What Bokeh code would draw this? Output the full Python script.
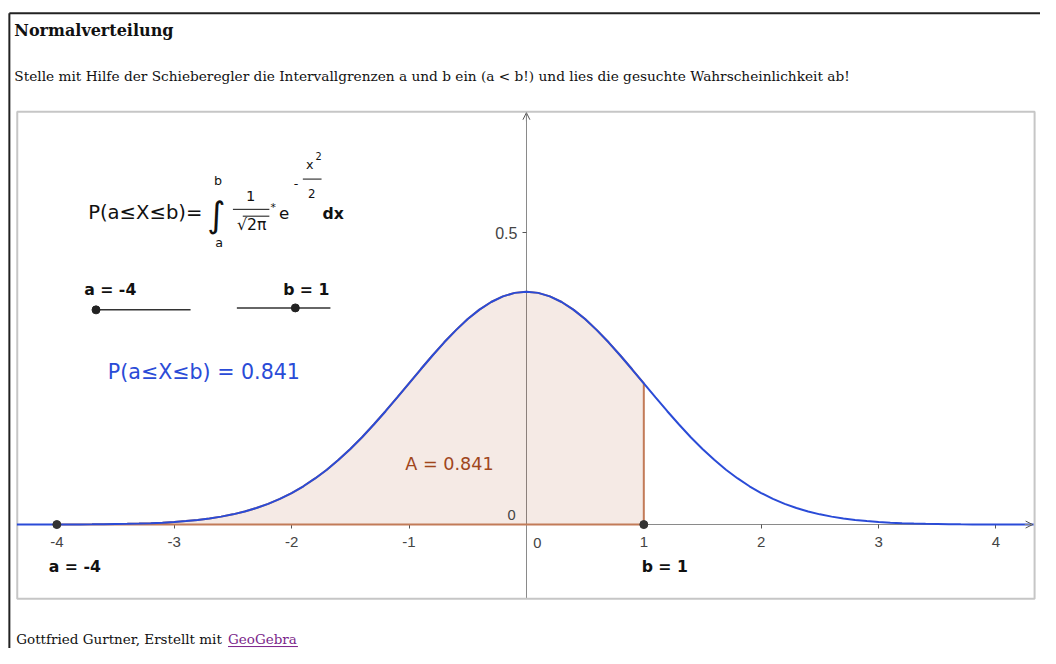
from bokeh.plotting import figure
from bokeh.models import Range1d, LinearAxis, FixedTicker, Arrow, OpenHead
from bokeh.core.properties import value
from bokeh.embed import file_html
from bokeh.resources import INLINE

# ---------------- data ----------------
mu = 0.0
sigma = 1.0
a = -4
b = 1
prob = 0.841
slider_min, slider_max = -4, 4

x_ticks = [-4, -3, -2, -1, 1, 2, 3, 4]
x_tick_labels = {t: str(t) for t in x_ticks}
y_ticks = [0.5]
y_tick_labels = {0.5: "0.5"}

# density values, x from -4.3 to 4.3 in steps of 0.1
curve_x = [round(-4.3 + 0.1 * i, 1) for i in range(87)]
curve_y = [
    0.0000, 0.0001, 0.0001, 0.0001, 0.0002, 0.0003, 0.0004, 0.0006, 0.0009, 0.0012,
    0.0017, 0.0024, 0.0033, 0.0044, 0.0060, 0.0079, 0.0104, 0.0136, 0.0175, 0.0224,
    0.0283, 0.0355, 0.0440, 0.0540, 0.0656, 0.0790, 0.0940, 0.1109, 0.1295, 0.1497,
    0.1714, 0.1942, 0.2179, 0.2420, 0.2661, 0.2897, 0.3123, 0.3332, 0.3521, 0.3683,
    0.3814, 0.3910, 0.3970, 0.3989, 0.3970, 0.3910, 0.3814, 0.3683, 0.3521, 0.3332,
    0.3123, 0.2897, 0.2661, 0.2420, 0.2179, 0.1942, 0.1714, 0.1497, 0.1295, 0.1109,
    0.0940, 0.0790, 0.0656, 0.0540, 0.0440, 0.0355, 0.0283, 0.0224, 0.0175, 0.0136,
    0.0104, 0.0079, 0.0060, 0.0044, 0.0033, 0.0024, 0.0017, 0.0012, 0.0009, 0.0006,
    0.0004, 0.0003, 0.0002, 0.0001, 0.0001, 0.0001, 0.0000,
]
curve_x = [-4.34] + curve_x + [4.32]
curve_y = [0.0] + curve_y + [0.0]

title_text = "Normalverteilung"
subtitle_text = ("Stelle mit Hilfe der Schieberegler die Intervallgrenzen a und b ein "
                 "(a < b!) und lies die gesuchte Wahrscheinlichkeit ab!")
footer_text = "Gottfried Gurtner, Erstellt mit"
footer_link = "GeoGebra"

# ---------------- layout helpers (reference pixels -> data) ----------------
W, H = 1040, 648
REF_W, REF_H = 1056, 664
OX, OY = 534.0, 537.0       # reference position of the origin
SX, SY = 119.2, 598.0       # reference pixels per unit
FS = 0.98                   # font scale for the slightly smaller canvas


def dx(X):
    return (X - OX) / SX


def dy(Y):
    return (OY - Y) / SY


p = figure(width=W, height=H,
           x_range=Range1d(dx(0), dx(REF_W)), y_range=Range1d(dy(REF_H), dy(0)),
           output_backend="svg", toolbar_location=None,
           x_axis_location=None, y_axis_location=None,
           min_border=0, outline_line_color=None,
           background_fill_color="white", border_fill_color="white")
p.xgrid.visible = False
p.ygrid.visible = False


def T(X, Y, s, size, font="DejaVu Sans", color="#111111", style="normal",
      align="left", baseline="middle"):
    p.text(x=[dx(X)], y=[dy(Y)], text=[s], text_font=value(font),
           text_font_size=value(f"{size * FS:.1f}px"), text_font_style=style,
           text_color=color, text_align=align, text_baseline=baseline)


def SEG(X0, Y0, X1, Y1, color="#333333", width=1.0):
    p.segment(x0=[dx(X0)], y0=[dy(Y0)], x1=[dx(X1)], y1=[dy(Y1)],
              line_color=color, line_width=width)


# outer page frame (top and left edges visible)
SEG(9, 13, 1100, 13, color="#222222", width=2)
SEG(9, 13, 9, 700, color="#222222", width=2)

# GeoGebra drawing pad border
p.quad(left=[dx(17)], right=[dx(1050)], top=[dy(114)], bottom=[dy(613)],
       fill_color=None, line_color="#c6c6c6", line_width=2)

# shaded area between a and b
inside = [(x, y) for x, y in zip(curve_x, curve_y) if a <= x <= b]
sx = [a] + [x for x, _ in inside] + [b]
sy = [0.0] + [y for _, y in inside] + [0.0]
p.patch(sx, sy, fill_color="#993300", fill_alpha=0.1,
        line_color="#c27b58", line_width=2)

# axes through the origin
ax_col = "#8a8a8a"
xaxis = LinearAxis(fixed_location=0, ticker=FixedTicker(ticks=x_ticks),
                   major_label_overrides=x_tick_labels,
                   bounds=(dx(17), dx(1046)),
                   axis_line_color=ax_col, axis_line_width=1,
                   major_tick_line_color="#555555", major_tick_in=0, major_tick_out=4,
                   minor_tick_line_color=None,
                   major_label_text_font="Liberation Sans",
                   major_label_text_font_size="15px",
                   major_label_text_color="#444444",
                   major_label_standoff=8, level="underlay")
p.add_layout(xaxis, "below")
yaxis = LinearAxis(fixed_location=0, ticker=FixedTicker(ticks=y_ticks),
                   major_label_overrides=y_tick_labels,
                   bounds=(dy(613), dy(116)),
                   axis_line_color=ax_col, axis_line_width=1,
                   major_tick_line_color="#555555", major_tick_in=0, major_tick_out=4,
                   minor_tick_line_color=None,
                   major_label_text_font="Liberation Sans",
                   major_label_text_font_size="16px",
                   major_label_text_color="#444444",
                   major_label_standoff=5, level="underlay")
p.add_layout(yaxis, "left")
p.add_layout(Arrow(end=OpenHead(size=7, line_color="#555555", line_width=1),
                   x_start=dx(1040), y_start=0, x_end=dx(1048), y_end=0,
                   line_color=ax_col))
p.add_layout(Arrow(end=OpenHead(size=7, line_color="#555555", line_width=1),
                   x_start=0, y_start=dy(124), x_end=0, y_end=dy(115),
                   line_color=ax_col))
T(545, 556, "0", 15, font="Liberation Sans", color="#444444", align="center")
T(519, 527, "0", 15, font="Liberation Sans", color="#444444", align="center")

# density curve
p.line(curve_x, curve_y, line_color="#2a4bd7", line_width=2)

# points a and b on the x axis
p.scatter(x=[a, b], y=[0, 0], size=8, color="#333333")
T(49, 580, f"a = {a}", 16, style="bold")
T(651, 580, f"b = {b}", 16, style="bold")

# area label
T(411, 475, f"A = {prob:.3f}", 18, color="#a0461c")


# sliders
def slider_pos(v, X0, X1):
    return X0 + (v - slider_min) / (slider_max - slider_min) * (X1 - X0)


T(85, 296, f"a = {a}", 16, style="bold")
SEG(97, 317, 193, 317, color="#333333", width=1.5)
p.scatter(x=[dx(slider_pos(a, 97, 193))], y=[dy(317)], size=8, color="#222222")
T(287, 296, f"b = {b}", 16, style="bold")
SEG(240, 315, 335, 315, color="#333333", width=1.5)
p.scatter(x=[dx(slider_pos(b, 240, 335))], y=[dy(315)], size=8, color="#222222")

# probability readout
T(109, 381, f"P(a\u2264X\u2264b) = {prob:.3f}", 21, color="#2a4bd7")

# formula
T(89, 217, "P(a\u2264X\u2264b)=", 20)
T(219, 219, "\u222b", 36, align="center", baseline="alphabetic")
T(221, 184, "b", 13, align="center")
T(222, 248, "a", 13, align="center")
T(254, 200, "1", 15, align="center")
SEG(236, 214, 273, 214, color="#111111", width=1)
T(255, 230, "\u221a2\u03c0", 16, align="center")
SEG(246, 221, 273, 221, color="#111111", width=1)
T(277, 212, "*", 11, align="center")
T(288, 218, "e", 17, align="center")
T(300, 188, "-", 13, align="center")
T(314, 168, "x", 13, align="center")
T(323, 159, "2", 10, align="center")
SEG(307, 183, 326, 183, color="#111111", width=1)
T(316, 198, "2", 12, align="center")
T(327, 218, "dx", 16, style="bold")

# page texts
T(14, 31, title_text, 16.3, font="DejaVu Serif", style="bold")
T(14, 77, subtitle_text, 14, font="DejaVu Serif")
T(16, 654, footer_text, 13.8, font="DejaVu Serif")
T(231, 654, footer_link, 13.8, font="DejaVu Serif", color="#7b1f8a")
SEG(231, 662, 302, 662, color="#7b1f8a", width=1)

open("out.html", "w").write(file_html(p, INLINE))
